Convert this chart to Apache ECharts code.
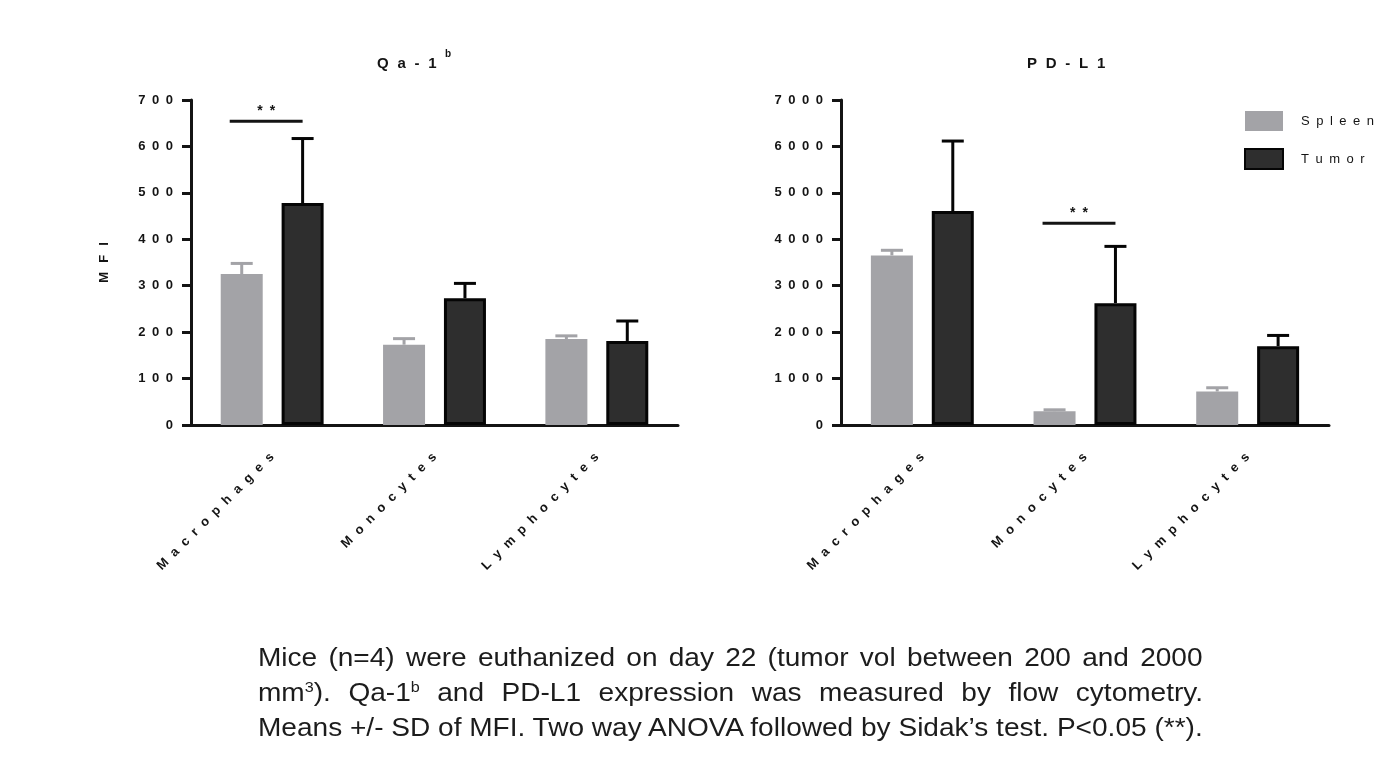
<!DOCTYPE html>
<html>
<head>
<meta charset="utf-8">
<title>Qa-1b and PD-L1 MFI</title>
<script src="https://cdn.jsdelivr.net/npm/echarts@6/dist/echarts.min.js"></script>
<style>
  html, body { margin: 0; padding: 0; background: #fff; }
  #wrap { position: relative; width: 1386px; height: 761px; overflow: hidden; }
  #chart { position: absolute; left: 0; top: 0; width: 1386px; height: 761px; }
  .caption {
    position: absolute;
    left: 258px;
    top: 640px;
    font-family: 'Liberation Sans', Arial, sans-serif;
    font-size: 26px;
    line-height: 35px;
    color: #1c1c1c;
    transform-origin: 0 0;
  }
  .caption .line { display: block; white-space: pre; }
  .caption .line span { display: inline-block; }
  .caption sup { font-size: 15px; line-height: 0; vertical-align: 9px; }
</style>
</head>
<body>
<div id="wrap">
  <div id="chart"></div>
  <div class="caption" id="caption">
    <div class="line"><span>Mice (n=4) were euthanized on day 22 (tumor vol between 200 and 2000</span></div>
    <div class="line"><span>mm<sup>3</sup>). Qa-1<sup>b</sup> and PD-L1 expression was measured by flow cytometry.</span></div>
    <div class="line"><span>Means +/- SD of MFI. Two way ANOVA followed by Sidak’s test. P&lt;0.05 (**).</span></div>
  </div>
</div>
<script>
const categories = ['Macrophages', 'Monocytes', 'Lymphocytes']

// Qa-1b MFI
const qaSpleenMean = [325, 173, 185]
const qaSpleenSd = [23, 13, 7]
const qaTumorMean = [478, 273, 181]
const qaTumorSd = [139, 32, 43]
const qaMax = 700
const qaStep = 100
const qaSignif = [[0, 654]]

// PD-L1 MFI
const pdSpleenMean = [3653, 297, 722]
const pdSpleenSd = [110, 30, 80]
const pdTumorMean = [4608, 2625, 1698]
const pdTumorSd = [1508, 1222, 231]
const pdMax = 7000
const pdStep = 1000
const pdSignif = [[1, 4343]]

const FONT = "'Liberation Sans', Arial, sans-serif"
const SPLEEN = '#a3a3a7'
const TUMOR = '#2e2e2e'
const INK = '#141414'
const barWidth = 42
const barGapRatio = 0.45
const barOffset = (barWidth * (1 + barGapRatio)) / 2
const capHalf = 11
const captionWidth = 945

function spaced(s, sep) {
  return String(s).split('').join(sep)
}

function errorSeries(gridIdx, means, sds, side, color) {
  return {
    type: 'custom',
    xAxisIndex: gridIdx,
    yAxisIndex: gridIdx,
    z: 1,
    silent: true,
    data: means.map((m, i) => [i, m, m + sds[i]]),
    renderItem(params, api) {
      const idx = api.value(0)
      const base = api.coord([idx, api.value(1)])
      const top = api.coord([idx, api.value(2)])
      const x = base[0] + side * barOffset
      const st = { stroke: color, lineWidth: 3 }
      return {
        type: 'group',
        children: [
          { type: 'line', shape: { x1: x, y1: base[1], x2: x, y2: top[1] }, style: st },
          { type: 'line', shape: { x1: x - capHalf, y1: top[1], x2: x + capHalf, y2: top[1] }, style: st },
        ],
      }
    },
  }
}

function signifSeries(gridIdx, marks) {
  return {
    type: 'custom',
    xAxisIndex: gridIdx,
    yAxisIndex: gridIdx,
    silent: true,
    data: marks,
    renderItem(params, api) {
      const p = api.coord([api.value(0), api.value(1)])
      const x1 = p[0] - barOffset - 12
      const x2 = p[0] + barOffset
      return {
        type: 'group',
        children: [
          { type: 'line', shape: { x1, y1: p[1], x2, y2: p[1] }, style: { stroke: INK, lineWidth: 3 } },
          {
            type: 'text',
            x: (x1 + x2) / 2,
            y: p[1] - 3,
            style: {
              text: spaced('**', '\u2002'),
              font: 'bold 14px ' + FONT,
              fill: INK,
              align: 'center',
              verticalAlign: 'bottom',
            },
          },
        ],
      }
    },
  }
}

function buildXAxis(gridIdx) {
  return {
    type: 'category',
    gridIndex: gridIdx,
    data: categories,
    axisLine: { lineStyle: { color: INK, width: 3 } },
    axisTick: { alignWithLabel: true, length: 8, lineStyle: { color: INK, width: 3 } },
    axisLabel: {
      rotate: 45,
      margin: 30,
      fontSize: 13,
      fontWeight: 'bold',
      fontFamily: FONT,
      color: INK,
      formatter: (v) => spaced(v, '\u2002\u200a'),
    },
  }
}

function buildYAxis(gridIdx, max, step, name) {
  return {
    type: 'value',
    gridIndex: gridIdx,
    min: 0,
    max: max,
    interval: step,
    name: name ? spaced(name, '\u2002\u2009') : '',
    nameLocation: 'middle',
    nameGap: 80,
    nameRotate: 90,
    nameTextStyle: { fontSize: 13, fontWeight: 'bold', fontFamily: FONT, color: INK },
    axisLine: { show: true, lineStyle: { color: INK, width: 3 } },
    axisTick: { show: true, length: 9, lineStyle: { color: INK, width: 3 } },
    splitLine: { show: false },
    axisLabel: {
      margin: 18,
      fontSize: 13,
      fontWeight: 'bold',
      fontFamily: FONT,
      color: INK,
      formatter: (v) => spaced(v, '\u2002'),
    },
  }
}

function barSeries(gridIdx, name, values) {
  const tumor = name === 'Tumor'
  return {
    name: name,
    type: 'bar',
    xAxisIndex: gridIdx,
    yAxisIndex: gridIdx,
    barWidth: barWidth,
    barGap: barGapRatio * 100 + '%',
    data: values,
    itemStyle: tumor
      ? { color: TUMOR, borderColor: '#050505', borderWidth: 3 }
      : { color: SPLEEN },
  }
}

// fit caption lines to the justified block width
function fitCaption() {
  const box = document.getElementById('caption')
  const lines = Array.from(box.querySelectorAll('.line span'))
  const widths = lines.map((el) => el.offsetWidth)
  const scale = Math.min(captionWidth / widths[0], captionWidth / widths[2])
  box.style.transform = 'scaleX(' + scale + ')'
  lines.forEach((el, i) => {
    const gaps = (el.textContent.match(/ /g) || []).length
    const extra = captionWidth / scale - widths[i]
    if (gaps && extra > 0) el.style.wordSpacing = extra / gaps + 'px'
  })
}
fitCaption()

const chart = echarts.init(document.getElementById('chart'))

chart.setOption({
  animation: false,
  backgroundColor: '#ffffff',
  textStyle: { fontFamily: FONT },
  grid: [
    { left: 191, top: 100, width: 487, height: 325 },
    { left: 841, top: 100, width: 488, height: 325 },
  ],
  xAxis: [buildXAxis(0), buildXAxis(1)],
  yAxis: [buildYAxis(0, qaMax, qaStep, 'MFI'), buildYAxis(1, pdMax, pdStep, '')],
  legend: {
    data: ['Spleen', 'Tumor'],
    orient: 'vertical',
    left: 1244,
    top: 111,
    padding: 0,
    itemWidth: 38,
    itemHeight: 20,
    itemGap: 17,
    icon: 'rect',
    selectedMode: false,
    textStyle: { fontSize: 13, color: INK, fontFamily: FONT, padding: [0, 0, 0, 13] },
    formatter: (n) => spaced(n, '\u2002'),
  },
  graphic: [
    { type: 'text', left: 377, top: 56, style: { text: spaced('Qa-1', '\u2002\u200a'), font: 'bold 15px ' + FONT, fill: INK } },
    { type: 'text', left: 445, top: 49, style: { text: 'b', font: 'bold 10px ' + FONT, fill: INK } },
    { type: 'text', left: 1027, top: 56, style: { text: spaced('PD-L1', '\u2002\u200a'), font: 'bold 15px ' + FONT, fill: INK } },
  ],
  series: [
    barSeries(0, 'Spleen', qaSpleenMean),
    barSeries(0, 'Tumor', qaTumorMean),
    errorSeries(0, qaSpleenMean, qaSpleenSd, -1, SPLEEN),
    errorSeries(0, qaTumorMean, qaTumorSd, 1, '#050505'),
    signifSeries(0, qaSignif),
    barSeries(1, 'Spleen', pdSpleenMean),
    barSeries(1, 'Tumor', pdTumorMean),
    errorSeries(1, pdSpleenMean, pdSpleenSd, -1, SPLEEN),
    errorSeries(1, pdTumorMean, pdTumorSd, 1, '#050505'),
    signifSeries(1, pdSignif),
  ],
})
</script>
</body>
</html>
